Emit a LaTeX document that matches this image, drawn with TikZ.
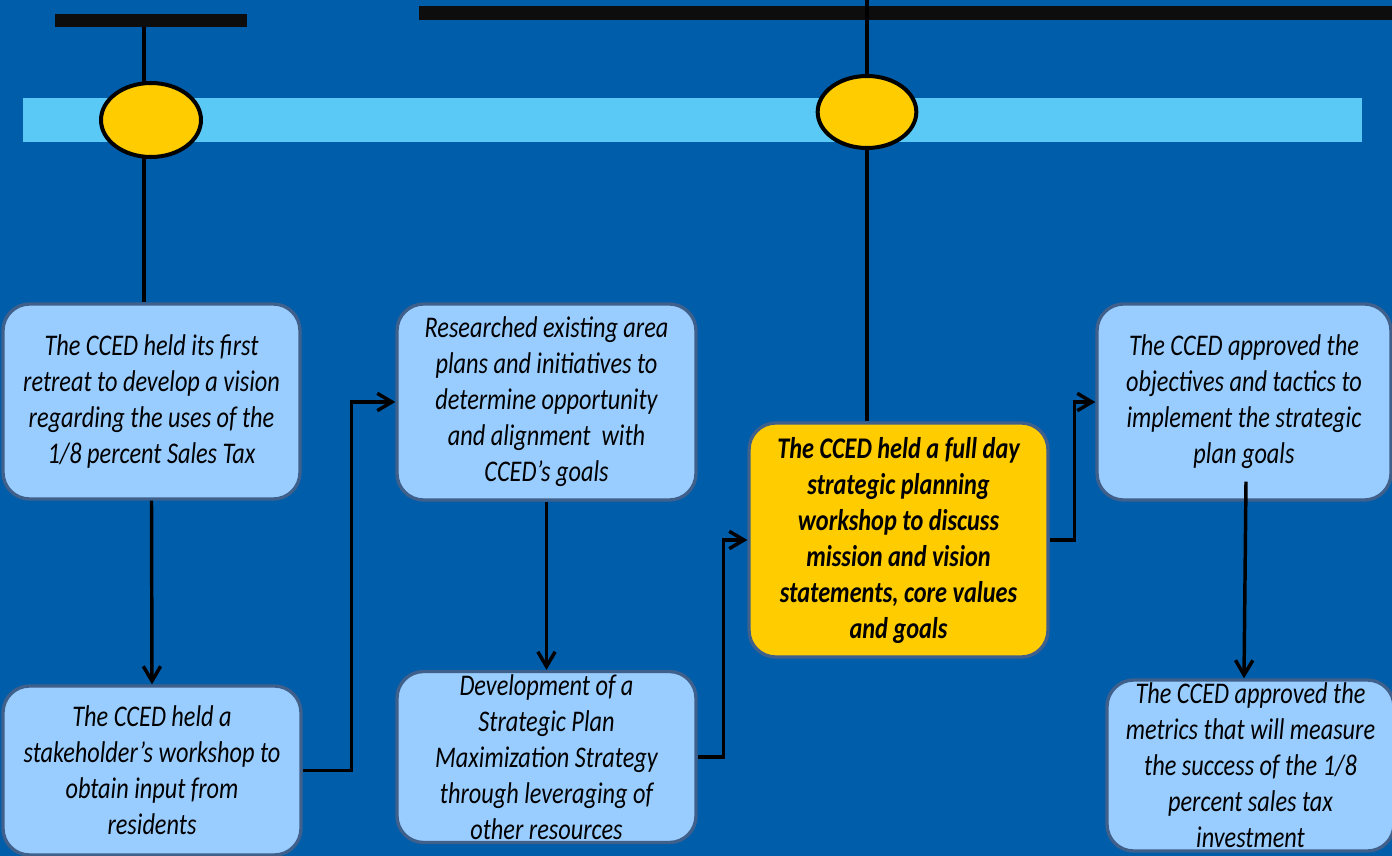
\documentclass[tikz,border=0pt]{standalone}
\usepackage{fontspec}
\setmainfont{Carlito}[FakeStretch=0.81]
\usepackage{tikz}
\usetikzlibrary{shapes.geometric}
\usetikzlibrary{arrows.meta}
\usetikzlibrary{calc}

\definecolor{bgblue}{RGB}{0,93,170}
\definecolor{bandblue}{RGB}{90,201,245}
\definecolor{boxfill}{RGB}{153,204,255}
\definecolor{boxedge}{RGB}{64,96,140}
\definecolor{gold}{RGB}{255,204,0}
\definecolor{barblack}{RGB}{13,13,13}

\tikzset{
  planbox/.style={draw=boxedge, fill=boxfill, line width=2.5pt, rounded corners=20pt,
    inner sep=0pt, align=center, font=\fontsize{22.5pt}{27pt}\selectfont\itshape},
  goldbox/.style={planbox, fill=gold, font=\fontsize{22.5pt}{27pt}\selectfont\bfseries\itshape},
  bar/.style={fill=barblack, inner sep=0pt},
  dot/.style={ellipse, draw=black, fill=gold, line width=3pt, inner sep=0pt},
  stem/.style={draw=black, line width=2.6pt},
  flow/.style={draw=black, line width=2.6pt, -{Straight Barb[length=11pt,width=13pt]}}
}

\begin{document}
\begin{tikzpicture}[x=0.75pt,y=0.75pt,yscale=-1,xscale=1]
\useasboundingbox (0,0) rectangle (1392,856);
\fill[bgblue] (0,0) rectangle (1392,856);

% timeline band
\fill[bandblue] (23,98) rectangle (1362,142);

% bars
\node[bar, minimum width=144pt, minimum height=9.75pt] (barL) at (151,20.5) {};
\node[bar, minimum width=729.75pt, minimum height=10.5pt] (barR) at (905.5,13) {};

% boxes
\node[planbox, minimum width=222.75pt, minimum height=146.25pt] (b1) at (151.5,401.5)
  {The CCED held its first\\retreat to develop a vision\\regarding the uses of the\\1/8 percent Sales Tax};
\node[planbox, minimum width=223.5pt, minimum height=126.75pt] (b2) at (152,770.5)
  {The CCED held a\\stakeholder’s workshop to\\obtain input from\\residents};
\node[planbox, minimum width=224.25pt, minimum height=147pt] (b3) at (546.5,402)
  {Researched existing area\\plans and initiatives to\\determine opportunity\\and alignment\ \ with\\CCED’s goals};
\node[planbox, minimum width=224.25pt, minimum height=128.25pt] (b4) at (546.5,757)
  {Development of a\\Strategic Plan\\Maximization Strategy\\through leveraging of\\other resources};
\node[goldbox, minimum width=224.25pt, minimum height=175.5pt] (yb) at (898.5,540)
  {The CCED held a full day\\strategic planning\\workshop to discuss\\mission and vision\\statements, core values\\and goals};
\node[planbox, minimum width=220.5pt, minimum height=147pt] (b5) at (1244,402)
  {The CCED approved the\\objectives and tactics to\\implement the strategic\\plan goals};
\node[planbox, minimum width=215.25pt, minimum height=128.25pt] (b6) at (1250.5,765.5)
  {The CCED approved the\\metrics that will measure\\the success of the 1/8\\percent sales tax\\investment};

% stems from the bars
\draw[stem] (144,0 |- barL.south) -- (144,0 |- b1.north);
\draw[stem] (867,0) -- (867,0 |- yb.north);

% milestones
\node[dot, minimum width=75pt, minimum height=55.5pt] (e1) at (151,120) {};
\node[dot, minimum width=74pt, minimum height=54pt] (e2) at (867,112) {};

% connectors
\draw[flow] (b1.south) -- (b2.north);
\draw[flow] (b2.east) -- ++(49,0) |- (b3.west);
\draw[flow] (b3.south) -- (b4.north);
\draw[flow] (b4.east) -- ++(26,0) |- (yb.west);
\draw[flow] (yb.east) -- ++(25,0) |- (b5.west);
\draw[flow] ($(b5.south)+(2,-20)$) -- (b5.south |- b6.north);

\end{tikzpicture}
\end{document}
